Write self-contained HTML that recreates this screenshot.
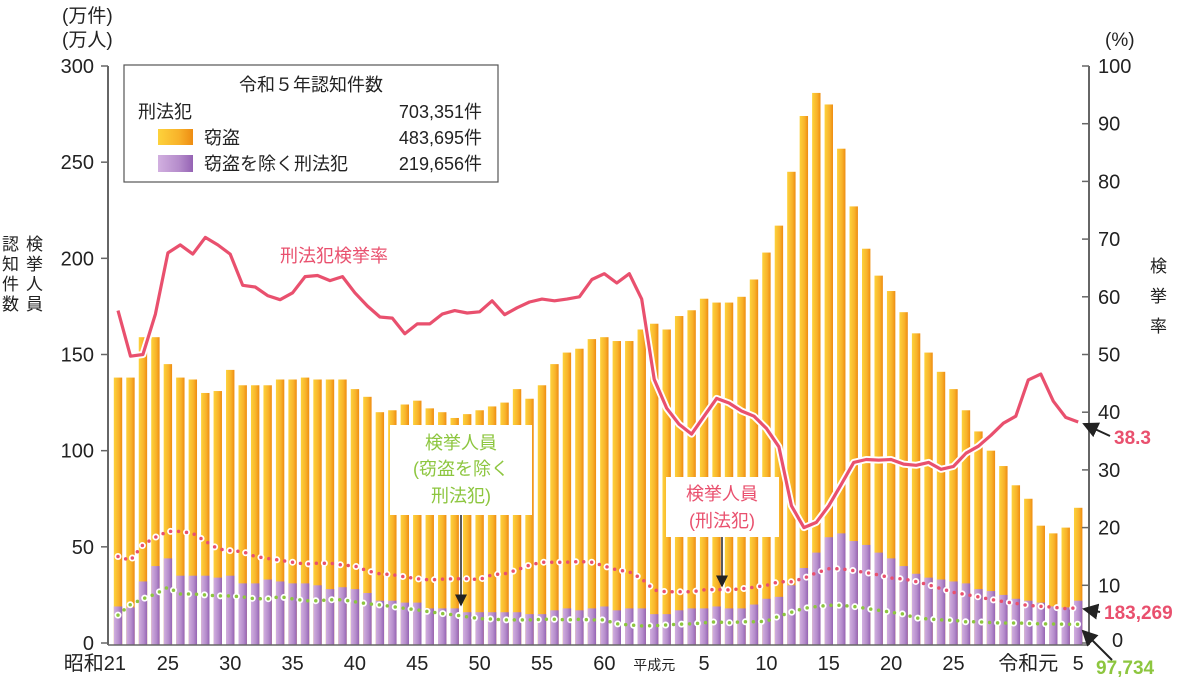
<!DOCTYPE html>
<html><head><meta charset="utf-8">
<style>
body{margin:0;background:#fff;}
svg{display:block;font-family:"Liberation Sans","Noto Sans CJK JP",sans-serif;}
</style></head>
<body>
<svg id="chart" width="1200" height="679" viewBox="0 0 1200 679">
<defs>
<linearGradient id="gOr" x1="0" x2="1"><stop offset="0" stop-color="#fdd23c"/><stop offset="0.6" stop-color="#f8b22a"/><stop offset="1" stop-color="#ee8c12"/></linearGradient>
<linearGradient id="gPu" x1="0" x2="1"><stop offset="0" stop-color="#d2b0e0"/><stop offset="0.6" stop-color="#b58ccb"/><stop offset="1" stop-color="#9563b4"/></linearGradient>
<marker id="ah" markerWidth="8" markerHeight="8" refX="7" refY="4" orient="auto"><path d="M0,0 L8,4 L0,8 z" fill="#222"/></marker>
</defs>
<g id="bars"></g>
<g id="lines"></g>
<!-- axes -->
<line x1="108" y1="66" x2="108" y2="645" stroke="#666" stroke-width="2"/>
<line x1="1089" y1="66" x2="1089" y2="645" stroke="#666" stroke-width="2"/>
<line x1="108" y1="645" x2="1089" y2="645" stroke="#666" stroke-width="1.5"/>
<g id="ticks" font-size="20" fill="#222"></g>
<text x="62" y="22" font-size="19" fill="#222">(万件)</text>
<text x="62" y="46" font-size="19" fill="#222">(万人)</text>
<text x="1105" y="46" font-size="19" fill="#222">(%)</text>
<g font-size="17" fill="#222">
<text x="2" y="250">認</text><text x="2" y="270">知</text><text x="2" y="290">件</text><text x="2" y="310">数</text>
<text x="26" y="250">検</text><text x="26" y="270">挙</text><text x="26" y="290">人</text><text x="26" y="310">員</text>
</g>
<g font-size="17" fill="#222">
<text x="1150" y="272">検</text><text x="1150" y="302">挙</text><text x="1150" y="332">率</text>
</g>
<!-- legend -->
<g>
<rect x="124" y="65" width="374" height="117" fill="#fff" stroke="#555" stroke-width="1.2"/>
<text x="311" y="91" font-size="18" text-anchor="middle" fill="#222">令和５年認知件数</text>
<text x="138" y="118" font-size="18" fill="#222">刑法犯</text>
<text x="482" y="118" font-size="18" text-anchor="end" fill="#222">703,351件</text>
<rect x="158" y="129" width="35" height="16" fill="url(#gOr)"/>
<text x="204" y="144" font-size="18" fill="#222">窃盗</text>
<text x="482" y="144" font-size="18" text-anchor="end" fill="#222">483,695件</text>
<rect x="158" y="155" width="35" height="17" fill="url(#gPu)"/>
<text x="204" y="170" font-size="18" fill="#222">窃盗を除く刑法犯</text>
<text x="482" y="170" font-size="18" text-anchor="end" fill="#222">219,656件</text>
</g>
<text x="280" y="262" font-size="18" fill="#e9506e">刑法犯検挙率</text>
<!-- annotations -->
<g>
<rect x="390" y="425" width="142" height="90" fill="#fff"/>
<text x="461" y="449" font-size="18" text-anchor="middle" fill="#8dc63f">検挙人員</text>
<text x="461" y="475" font-size="18" text-anchor="middle" fill="#8dc63f">(窃盗を除く</text>
<text x="461" y="502" font-size="18" text-anchor="middle" fill="#8dc63f">刑法犯)</text>
<line x1="461" y1="515" x2="461" y2="605" stroke="#222" stroke-width="1.5" marker-end="url(#ah)"/>
</g>
<g>
<rect x="666" y="477" width="113" height="60" fill="#fff"/>
<text x="722" y="500" font-size="18" text-anchor="middle" fill="#e9506e">検挙人員</text>
<text x="722" y="527" font-size="18" text-anchor="middle" fill="#e9506e">(刑法犯)</text>
<line x1="722" y1="537" x2="722" y2="586" stroke="#222" stroke-width="1.5" marker-end="url(#ah)"/>
</g>
<g>
<text x="1114" y="444" font-size="19" font-weight="bold" fill="#e9506e">38.3</text>
<line x1="1110" y1="436" x2="1084" y2="424" stroke="#222" stroke-width="2" marker-end="url(#ah)"/>
<text x="1104" y="619" font-size="19" font-weight="bold" fill="#e9506e">183,269</text>
<line x1="1100" y1="612" x2="1084" y2="609" stroke="#222" stroke-width="2" marker-end="url(#ah)"/>
<text x="1096" y="674" font-size="19" font-weight="bold" fill="#8dc63f">97,734</text>
<line x1="1112" y1="660" x2="1083" y2="631" stroke="#222" stroke-width="2" marker-end="url(#ah)"/>
</g>
</svg>
<script>
const years = [];
for (let y = 1946; y <= 2023; y++) years.push(y);
const totalCases = [138,138,159,159,145,138,137,130,131,142,134,134,134,137,137,138,137,137,137,132,128,120,121,124,126,122,120,117,119,121,123,125,132,127,134,145,151,153,158,159,157,157,163,166,163,170,173,179,177,177,180,189,203,217,245,274,286,280,257,227,205,191,183,172,161,151,141,132,121,110,100,92,82,75,61,57,60,70.3];
const nonTheftCases = [19,18.5,32,40,44,35,35,35,34,35,31,31,33,32,31,31,30,28,29,28,26,22,22,21,21,18,18,18,16,16,16,16,16,15,15,17,18,17,18,19,17,18,18,15,15,17,18,18,19,18,18,20,23,24,30,39,47,55,57,53,51,47,44,40,36,34,33,32,31,28,27,25,23,22,21,19,18.5,22];
const clearanceRate = [57.6,49.7,50,57,67.6,69,67.4,70.3,69,67.4,62,61.7,60.2,59.5,60.7,63.5,63.7,62.8,63.5,60.7,58.4,56.5,56.3,53.6,55.3,55.3,57,57.6,57.2,57.4,59.3,56.9,58.1,59.1,59.6,59.3,59.6,60,63,64,62.4,64,59.6,45.7,40.7,37.9,36.2,39.3,42.4,41.6,40.2,39.3,37.2,34,23.8,20,20.9,23.8,27.5,31.3,31.8,31.7,31.8,31,30.8,31.3,30.1,30.6,32.9,34.1,36,38.1,39.3,45.6,46.6,41.9,39.1,38.3];
const arrests = [45,43,51,55,58,58,57,53,49,48,47.5,45,44,43,42,41,41.5,41.5,40.5,40,37.5,36,35.5,34.4,33.4,32.8,33.2,33.4,33.4,33,35.5,36,38,40.5,42,42,42,42.3,42,40,38,37,33.4,27.5,26.6,26.6,26.6,27.6,27.8,27.6,28.2,29,30,31.8,31.8,33.7,36.5,38.6,38.6,37.6,36.6,35.4,33.8,33.2,32,30.2,28.3,26.3,25.2,24,22.6,21.5,20.6,19.5,19.1,18.6,17.9,18.3];
const nonTheftArrests = [14.5,20,23,25.5,29,25.5,25.5,25,24.5,24.5,24,23,23,24,23,22,22,22.5,22.5,21.4,20.4,19.8,19,18,17.2,16.2,15.3,14.6,13.6,12.7,12.5,12,12,12,12.3,12.3,12,12.3,12,12,10,9.4,8.9,9,9.4,9.8,10,10.5,11,10.5,11,11,11.3,14,16,18,19,19.6,19.6,19,18,17,16,15,13,12.5,12,11.8,11,11,10.6,10.4,10.4,10.2,10,9.9,9.8,9.77];
const leftTicks = [0,50,100,150,200,250,300];
const rightTicks = [0,10,20,30,40,50,60,70,80,90,100];
const xLabels = [[1946,"昭和21"],[1950,"25"],[1955,"30"],[1960,"35"],[1965,"40"],[1970,"45"],[1975,"50"],[1980,"55"],[1985,"60"],[1989,"平成元"],[1993,"5"],[1998,"10"],[2003,"15"],[2008,"20"],[2013,"25"],[2019,"令和元"],[2023,"5"]];

const NS = "http://www.w3.org/2000/svg";
const x0 = 118, dx = 12.47, yBase = 643, yTop = 66;
const xs = i => x0 + i * dx;
const xOfYear = yr => xs(yr - 1946);
const yL = v => yBase - v * (yBase - yTop) / 300;
const yR = v => yBase - v * (yBase - yTop) / 100;
function mk(tag, attrs, parent) {
  const e = document.createElementNS(NS, tag);
  for (const k in attrs) e.setAttribute(k, attrs[k]);
  parent.appendChild(e);
  return e;
}
const bars = document.getElementById("bars");
const bw = 8.4;
years.forEach((yr, i) => {
  const cx = xs(i);
  const t = mk("rect", {x: cx - bw/2, y: yL(totalCases[i]), width: bw, height: yBase - yL(totalCases[i]) + 2, fill: "url(#gOr)"}, bars);
  
  
  const p = mk("rect", {x: cx - bw/2, y: yL(nonTheftCases[i]), width: bw, height: yBase - yL(nonTheftCases[i]) + 2, fill: "url(#gPu)"}, bars);
  
  
});
const lines = document.getElementById("lines");
function pts(arr, f) { return arr.map((v, i) => xs(i).toFixed(1) + "," + f(v).toFixed(1)).join(" "); }
const rp = pts(clearanceRate, yR);
const rw = mk("polyline", {points: rp, fill: "none", stroke: "#fff", "stroke-width": 7, "stroke-linejoin": "round"}, lines);


const rl = mk("polyline", {points: rp, fill: "none", stroke: "#e9506e", "stroke-width": 3.2, "stroke-linejoin": "round"}, lines);


function dotted(arr, color, name) {
  const p = pts(arr, yL);
  const w = mk("polyline", {points: p, fill: "none", stroke: "#fff", "stroke-width": 7, "stroke-dasharray": "0 16", "stroke-linecap": "round"}, lines);
  
  
  const c = mk("polyline", {points: p, fill: "none", stroke: color, "stroke-width": 3.5, "stroke-dasharray": "0 8", "stroke-linecap": "round"}, lines);
  
  
}
dotted(arrests, "#e9506e", "arrests-line");
dotted(nonTheftArrests, "#8dc63f", "nontheft-arrests-line");

const ticks = document.getElementById("ticks");
leftTicks.forEach(v => {
  const l = mk("line", {x1: 101, x2: 108, y1: yL(v), y2: yL(v), stroke: "#666", "stroke-width": 1.5}, ticks);
  
  
  const t = mk("text", {x: 94, y: yL(v) + 7, "text-anchor": "end"}, ticks);
  t.textContent = v;
  
  
});
rightTicks.forEach(v => {
  const l = mk("line", {x1: 1082, x2: 1089, y1: yR(v), y2: yR(v), stroke: "#666", "stroke-width": 1.5}, ticks);
  
  
  if (v === 0) return;
  const t = mk("text", {x: 1098, y: yR(v) + 7}, ticks);
  t.textContent = v;
  
  
});
const z = mk("text", {x: 1112, y: yR(0) + 4}, ticks);
z.textContent = "0";


xLabels.forEach(([yr, lab]) => {
  const small = lab === "平成元";
  const anchor = lab === "昭和21" ? "end" : "middle";
  const xx = lab === "昭和21" ? xOfYear(yr) + 8 : xOfYear(yr);
  const t = mk("text", {x: xx, y: 670, "text-anchor": anchor, "font-size": small ? 14 : 20}, ticks);
  t.textContent = lab;
  
  
});
</script>
</body></html>
